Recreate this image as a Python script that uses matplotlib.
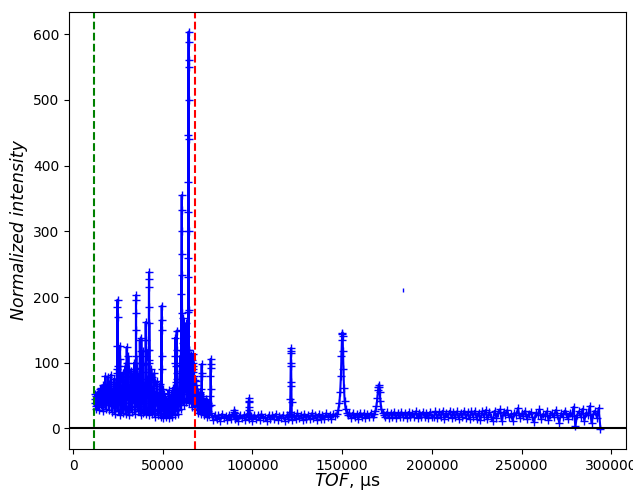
import numpy as np
import matplotlib
matplotlib.use('Agg')
import matplotlib.pyplot as plt

# --- spectrum data -------------------------------------------------------
# forest region, two interleaved samplings every 400 us (12000..76000, 12200..75800)
forest_start, forest_stop = 12000, 76000
forest_int = [
    38, 52, 30, 46, 35, 55, 28, 48, 40, 62, 33, 50, 26, 58, 44, 80, 30, 52, 38, 78,
    28, 55, 42, 82, 25, 60, 35, 70, 22, 65, 48, 90, 26, 58, 40, 75, 20, 62, 36, 85,
    24, 70, 38, 95, 22, 56, 44, 110, 20, 66, 32, 88, 25, 75, 45, 100, 22, 60, 38, 92,
    26, 80, 34, 135, 20, 70, 42, 118, 24, 64, 30, 98, 22, 76, 48, 120, 20, 58, 36, 90,
    22, 62, 30, 84, 18, 55, 40, 72, 20, 50, 28, 68, 18, 46, 34, 60, 16, 52, 26, 44,
    18, 40, 24, 58, 16, 45, 30, 52, 18, 62, 26, 48, 20, 70, 34, 85, 22, 60, 40, 110,
    30, 95, 45, 130, 36, 105, 60, 160, 40, 115, 55, 120, 38, 100, 48, 112, 32, 90, 44, 80,
    30, 72, 36, 60, 24, 48, 30, 55, 22, 42, 26, 50, 20, 38, 24, 45, 18, 40, 22, 36,
    20,
]
fill_start, fill_stop = 12200, 75800
fill_int = [
    45, 34, 50, 41, 56, 38, 47, 60, 36, 52, 44, 66, 40, 55, 35, 62, 46, 58, 42, 68,
    38, 62, 48, 70, 34, 58, 44, 76, 32, 60, 52, 85, 36, 66, 46, 72, 30, 58, 44, 80,
    34, 64, 46, 78, 30, 60, 50, 90, 28, 62, 40, 80, 34, 70, 52, 88, 30, 58, 44, 82,
    32, 72, 40, 100, 28, 64, 48, 96, 30, 60, 38, 86, 28, 70, 52, 104, 26, 56, 42, 78,
    28, 56, 36, 70, 24, 50, 42, 64, 26, 48, 34, 60, 24, 44, 38, 54, 22, 46, 30, 42,
    24, 38, 30, 50, 22, 42, 34, 48, 24, 55, 32, 46, 26, 62, 40, 76, 28, 58, 46, 96,
    38, 88, 52, 118, 42, 98, 64, 140, 46, 106, 60, 112, 44, 94, 54, 104, 38, 86, 48, 74,
    34, 66, 40, 56, 28, 46, 34, 52, 26, 40, 30, 46, 24, 36, 28, 42, 22, 38, 26, 34,
]

# flat background segments: (start, stop) in us, sampled every ~1000 us
bg_ranges = [(77000, 120000), (120000, 146000), (154000, 167000),
             (174000, 200000), (201000, 240000), (241000, 294000)]
bg_int = [
    [24, 13, 21, 15, 20, 12, 22, 16, 19, 13, 21, 14, 22, 15, 18, 12, 21, 16, 20, 13,
     22, 14, 19, 12, 21, 15, 20, 13, 22, 16, 18, 12, 21, 14, 20, 15, 22, 13, 19, 16,
     21, 12, 20, 17],
    [15, 22, 13, 21, 14, 23, 16, 20, 13, 22, 15, 21, 14, 23, 16, 20, 13, 22, 15, 21,
     14, 23, 17, 20, 15, 22, 19],
    [23, 16, 24, 17, 22, 15, 24, 18, 23, 16, 22, 17, 24, 18],
    [17, 25, 16, 24, 18, 25, 16, 23, 17, 25, 18, 24, 16, 25, 17, 23, 18, 26, 16, 24,
     17, 25, 18, 24, 16, 25, 18],
    [18, 26, 16, 25, 17, 27, 15, 24, 18, 27, 16, 25, 17, 26, 15, 24, 18, 27, 16, 25,
     14, 26, 18, 27, 15, 24, 13, 26, 17, 28, 14, 25, 18, 12, 27, 16, 24, 29, 11, 25],
    [20, 28, 17, 22, 12, 24, 20, 31, 16, 23, 19, 27, 14, 22, 25, 18, 10, 24, 21, 29,
     15, 22, 19, 26, 13, 21, 24, 17, 28, 20, 9, 23, 18, 27, 22, 15, 24, 19, 33, 3,
     21, 26, 17, 30, 12, 24, 20, 34, 8, 22, 27, 16, 31, -1],
]

# peaks, points along each profile
peak_tof = [
    24600, 24700, 24750, 24790, 24830, 24900,
    26100, 26180, 26250,
    29850, 29910, 29970,
    34950, 35000, 35050, 35090, 35130, 35200,
    37950, 38040, 38100,
    40400, 40490, 40560,
    42150, 42220, 42280, 42330, 42380, 42450, 42550,
    49300, 49360, 49410, 49460, 49550,
    56850, 56900, 56950,
    57650, 57760, 57850,
    60350, 60420, 60470, 60510, 60550, 60590, 60650, 60750,
    61450, 61550, 61650,
    64100, 64170, 64220, 64260, 64290, 64320, 64345, 64360, 64375, 64390,
    64420, 64460, 64510, 64580, 64660,
    66950, 67010, 67080,
    71550, 71620, 71690, 71760, 71850,
    76500, 76580, 76650, 76700, 76760, 76850, 76950,
    89600, 89800, 89960, 90150, 90400,
    97700, 97850, 97950, 98030, 98110, 98250, 98400,
    120900, 121100, 121200, 121300, 121380, 121430, 121480, 121550, 121650, 121800,
    147000, 147800, 148400, 148900, 149300, 149600, 149850, 150000, 150110, 150250,
    150450, 150700, 151000, 151400, 151900, 152500, 153300,
    167800, 168500, 169100, 169600, 170000, 170250, 170440, 170650, 170900, 171300,
    171800, 172500, 173300,
]
peak_int = [
    60, 125, 185, 196, 170, 95,
    80, 126, 105,
    90, 124, 100,
    90, 150, 195, 203, 175, 110,
    100, 137, 118,
    110, 162, 135,
    120, 185, 228, 238, 215, 160, 100,
    110, 165, 187, 150, 90,
    100, 138, 110,
    95, 149, 120,
    150, 205, 266, 332, 355, 300, 233, 175,
    120, 168, 140,
    177, 230, 260, 329, 375, 446, 500, 550, 588, 604,
    560, 440, 300, 180, 120,
    100, 114, 95,
    60, 85, 98, 80, 45,
    50, 80, 98, 106, 92, 60, 35,
    20, 25, 28, 24, 19,
    22, 32, 42, 46, 40, 28, 20,
    25, 45, 70, 100, 118, 122, 115, 95, 65, 40,
    22, 28, 38, 55, 80, 110, 135, 143, 146, 140,
    118, 90, 62, 42, 30, 24, 21,
    22, 26, 34, 46, 58, 63, 66, 63, 55, 42,
    30, 24, 21,
]

stray_tof = [183800]
stray_int = [210]

tof_start = 11700
tof_stop = 68100

# --- assemble one sorted spectrum -----------------------------------------
xs = [np.linspace(forest_start, forest_stop, len(forest_int)),
      np.linspace(fill_start, fill_stop, len(fill_int))]
ys = [np.array(forest_int, dtype=float), np.array(fill_int, dtype=float)]
for (a, b), vals in zip(bg_ranges, bg_int):
    xs.append(np.linspace(a, b, len(vals)))
    ys.append(np.array(vals, dtype=float))
xs.append(np.array(peak_tof, dtype=float))
ys.append(np.array(peak_int, dtype=float))
tof = np.concatenate(xs)
inten = np.concatenate(ys)
order = np.argsort(tof, kind='stable')
tof, inten = tof[order], inten[order]

fig = plt.figure(figsize=(6.33, 4.9), dpi=100)
ax = fig.add_axes([0.1095, 0.0837, 0.8791, 0.8924])

ax.plot(tof, inten, 'b+-', lw=1.5, ms=6)
ax.plot(stray_tof, stray_int, '|', color='b', ms=2.5, mew=1)
ax.axhline(0, color='k', lw=1.5)
ax.axvline(tof_start, color='g', ls='--', lw=1.5)
ax.axvline(tof_stop, color='r', ls='--', lw=1.5)

ax.set_xlabel('$TOF$, µs', fontsize=12.5, labelpad=-1)
ax.set_ylabel('Normalized intensity', fontsize=12.5, style='italic')

fig.savefig('out.png', dpi=100)
